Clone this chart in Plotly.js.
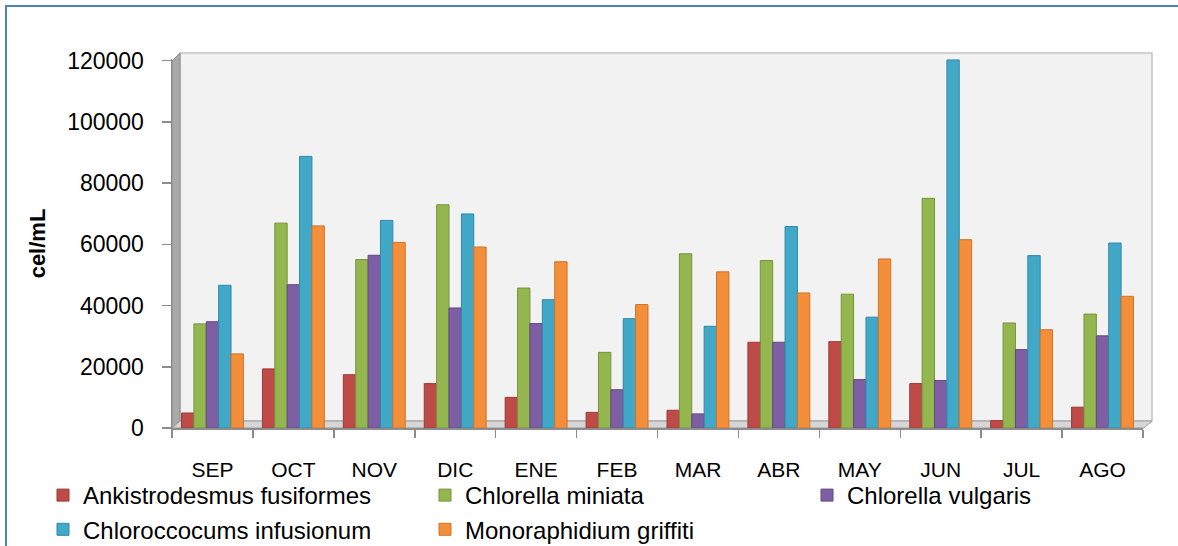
<!DOCTYPE html>
<html>
<head>
<meta charset="utf-8">
<script src="https://cdn.plot.ly/plotly-3.0.1.min.js"></script>
<style>
  html, body { margin: 0; padding: 0; background: #ffffff; }
  #chart { width: 1178px; height: 546px; }
</style>
</head>
<body>
<div id="chart"></div>
<script>
// ---- data ----
const months = ['SEP', 'OCT', 'NOV', 'DIC', 'ENE', 'FEB', 'MAR', 'ABR', 'MAY', 'JUN', 'JUL', 'AGO'];
const ankistrodesmus = [4900, 19300, 17400, 14500, 10000, 5100, 5800, 28000, 28200, 14500, 2400, 6800];
const chlorellaMiniata = [34000, 66900, 55000, 72900, 45700, 24700, 56900, 54700, 43700, 75000, 34300, 37200];
const chlorellaVulgaris = [34700, 46800, 56400, 39200, 34100, 12500, 4600, 28000, 15800, 15500, 25600, 30100];
const chloroccocums = [46600, 88700, 67800, 69900, 41900, 35700, 33200, 65800, 36200, 120200, 56300, 60400];
const monoraphidium = [24200, 66000, 60600, 59100, 54300, 40300, 51000, 44100, 55200, 61500, 32100, 43000];
const seriesNames = ['Ankistrodesmus fusiformes', 'Chlorella miniata', 'Chlorella vulgaris', 'Chloroccocums infusionum', 'Monoraphidium griffiti'];
const yTicks = [0, 20000, 40000, 60000, 80000, 100000, 120000];

// ---- styles ----
const fills = ['#be4b48', '#94b64f', '#7e5fa3', '#42a8c8', '#f38e3a'];
const edges = ['#9a3a37', '#77933d', '#634883', '#2f8aa6', '#cf7428'];
const FONT = 'Liberation Sans, Arial, sans-serif';

const W = 1178, H = 546;
const M = { l: 172, r: 35, t: 59, b: 118 };
const plotW = W - M.l - M.r, plotH = H - M.t - M.b;
const yMax = 120500;
// pixel -> paper helpers for decoration shapes
const px = x => (x - M.l) / plotW;
const py = y => (H - M.b - y) / plotH;

const allSeries = [ankistrodesmus, chlorellaMiniata, chlorellaVulgaris, chloroccocums, monoraphidium];
const traces = allSeries.map((vals, i) => ({
  type: 'bar',
  name: seriesNames[i],
  x: months,
  y: vals,
  marker: { color: fills[i], line: { color: edges[i], width: 1 } },
  hoverinfo: 'x+y+name'
}));

function poly(points) {
  return 'M' + points.map(p => px(p[0]) + ',' + py(p[1])).join('L') + 'Z';
}

const shapes = [
  // back wall
  { type: 'path', xref: 'paper', yref: 'paper', layer: 'below',
    path: poly([[180, 53], [1152, 53], [1152, 421], [180, 421]]),
    fillcolor: '#f2f2f2', line: { color: '#c4c4c4', width: 1.5 } },
  // left side wall
  { type: 'path', xref: 'paper', yref: 'paper', layer: 'below',
    path: poly([[172, 61], [180, 53], [180, 421], [172, 428]]),
    fillcolor: '#a9a9a9', line: { color: '#8c8c8c', width: 1 } },
  // floor
  { type: 'path', xref: 'paper', yref: 'paper', layer: 'below',
    path: poly([[172, 428], [180, 421], [1152, 421], [1144, 428]]),
    fillcolor: '#d6d6d6', line: { color: '#9a9a9a', width: 1 } },
  // outer blue frame (left and top edges)
  { type: 'line', xref: 'paper', yref: 'paper', x0: px(6), x1: px(6), y0: py(5), y1: py(H + 2),
    line: { color: '#4f81bd', width: 2 } },
  { type: 'line', xref: 'paper', yref: 'paper', x0: px(5), x1: px(W + 2), y0: py(6), y1: py(6),
    line: { color: '#4f81bd', width: 2 } }
];

const layout = {
  width: W, height: H,
  margin: Object.assign({ autoexpand: false }, M),
  paper_bgcolor: '#ffffff',
  plot_bgcolor: 'rgba(0,0,0,0)',
  font: { family: FONT, color: '#000000' },
  barmode: 'group',
  bargap: 0.235,
  bargroupgap: 0,
  showlegend: true,
  xaxis: {
    type: 'category',
    tickson: 'boundaries',
    ticks: 'outside', ticklen: 8, tickcolor: '#8c8c8c', tickwidth: 1.5,
    showline: true, linecolor: '#8c8c8c', linewidth: 1.5,
    showgrid: false, zeroline: false,
    tickfont: { family: FONT, size: 21, color: '#000000' },
    ticklabelstandoff: 22,
    automargin: false
  },
  yaxis: {
    range: [0, yMax],
    tickvals: yTicks,
    ticktext: yTicks.map(v => String(v)),
    ticks: 'outside', ticklen: 9, tickcolor: '#8c8c8c', tickwidth: 1.5,
    showline: true, linecolor: '#8c8c8c', linewidth: 1.5,
    showgrid: false, zeroline: false,
    tickfont: { family: FONT, size: 23, color: '#000000' },
    ticklabelstandoff: 13,
    title: { text: 'cel/mL', font: { family: FONT, size: 22, color: '#000000', weight: 'bold' }, standoff: 15 },
    automargin: false
  },
  legend: {
    orientation: 'h',
    x: px(43), xanchor: 'left',
    y: py(473), yanchor: 'top',
    entrywidth: 337, entrywidthmode: 'pixels',
    font: { family: FONT, size: 24, color: '#000000' },
    bgcolor: 'rgba(0,0,0,0)',
    traceorder: 'normal',
    itemclick: false, itemdoubleclick: false
  },
  shapes: shapes
};

Plotly.newPlot('chart', traces, layout, { displayModeBar: false, staticPlot: true });
</script>
</body>
</html>
